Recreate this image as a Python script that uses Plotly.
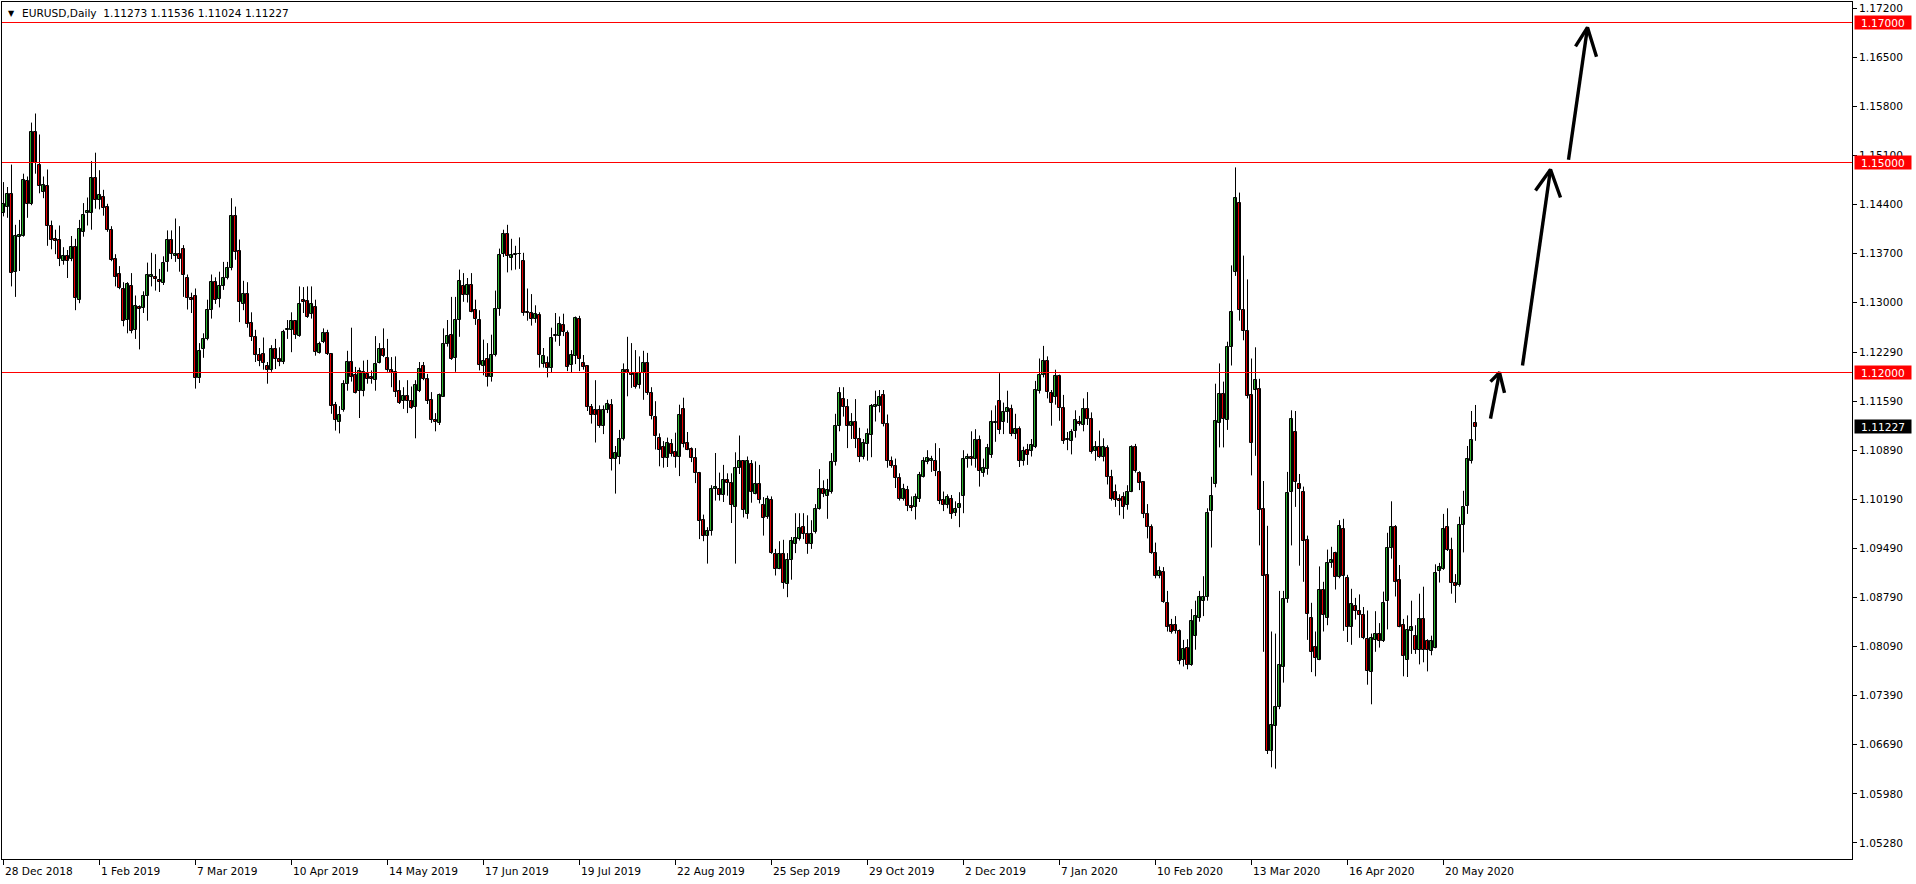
import pandas as pd
import plotly.graph_objects as go

# ---------------- data ----------------
symbol_title = "EURUSD,Daily"
header_values = ["1.11273", "1.11536", "1.11024", "1.11227"]
first_day, last_day = "2018-12-28", "2020-06-01"
holidays = ["2019-01-01", "2019-12-25", "2020-01-01"]

opens = [
    1.1428, 1.1436, 1.1455, 1.1344, 1.1393, 1.1395, 1.1474, 1.1441, 1.1544, 1.1497,
    1.1458, 1.1467, 1.1410, 1.1391, 1.1390, 1.1359, 1.1366, 1.1362, 1.1380, 1.1304,
    1.1401, 1.1428, 1.1428, 1.1478, 1.1447, 1.1451, 1.1437, 1.1403, 1.1362, 1.1341,
    1.1320, 1.1275, 1.1324, 1.1261, 1.1294, 1.1292, 1.1309, 1.1336, 1.1337, 1.1332,
    1.1328, 1.1358, 1.1389, 1.1366, 1.1370, 1.1376, 1.1335, 1.1307, 1.1309, 1.1192,
    1.1234, 1.1248, 1.1289, 1.1330, 1.1305, 1.1324, 1.1335, 1.1350, 1.1424, 1.1373,
    1.1298, 1.1312, 1.1271, 1.1251, 1.1225, 1.1227, 1.1209, 1.1203, 1.1234, 1.1220,
    1.1215, 1.1261, 1.1261, 1.1274, 1.1252, 1.1304, 1.1302, 1.1284, 1.1294, 1.1228,
    1.1244, 1.1256, 1.1226, 1.1153, 1.1129, 1.1146, 1.1184, 1.1215, 1.1196, 1.1174,
    1.1173, 1.1198, 1.1193, 1.1190, 1.1214, 1.1234, 1.1221, 1.1203, 1.1201, 1.1174,
    1.1160, 1.1166, 1.1159, 1.1151, 1.1174, 1.1210, 1.1191, 1.1161, 1.1132, 1.1128,
    1.1165, 1.1241, 1.1253, 1.1221, 1.1275, 1.1324, 1.1311, 1.1325, 1.1289, 1.1275,
    1.1210, 1.1219, 1.1193, 1.1225, 1.1291, 1.1370, 1.1398, 1.1363, 1.1368, 1.1369,
    1.1359, 1.1286, 1.1285, 1.1277, 1.1282, 1.1212, 1.1214, 1.1207, 1.1252, 1.1252,
    1.1268, 1.1257, 1.1211, 1.1223, 1.1277, 1.1214, 1.1210, 1.1151, 1.1146, 1.1146,
    1.1123, 1.1146, 1.1154, 1.1077, 1.1079, 1.1105, 1.1203, 1.1199, 1.1200, 1.1182,
    1.1200, 1.1214, 1.1171, 1.1136, 1.1107, 1.1094, 1.1078, 1.1098, 1.1086, 1.1079,
    1.1148, 1.1100, 1.1091, 1.1078, 1.1057, 1.0990, 1.0966, 1.0973, 1.1034, 1.1034,
    1.1025, 1.1047, 1.1042, 1.1008, 1.1064, 1.1073, 1.0998, 1.1070, 1.1027, 1.1041,
    1.1011, 1.0993, 1.1018, 1.0941, 1.0920, 1.0941, 1.0898, 1.0932, 1.0955, 1.0962,
    1.0980, 1.0969, 1.0955, 1.0972, 1.1005, 1.1033, 1.1024, 1.1029, 1.1072, 1.1124,
    1.1162, 1.1151, 1.1124, 1.1130, 1.1105, 1.1079, 1.1098, 1.1111, 1.1151, 1.1152,
    1.1168, 1.1126, 1.1074, 1.1066, 1.1050, 1.1020, 1.1032, 1.1009, 1.1008, 1.1020,
    1.1051, 1.1072, 1.1074, 1.1073, 1.1058, 1.1018, 1.1011, 1.1019, 1.0999, 1.1006,
    1.1023, 1.1076, 1.1080, 1.1077, 1.1103, 1.1057, 1.1062, 1.1082, 1.1128, 1.1160,
    1.1130, 1.1144, 1.1148, 1.1112, 1.1120, 1.1074, 1.1089, 1.1088, 1.1094, 1.1173,
    1.1197, 1.1217, 1.1171, 1.1165, 1.1195, 1.1149, 1.1105, 1.1102, 1.1117, 1.1130,
    1.1125, 1.1148, 1.1133, 1.1088, 1.1093, 1.1080, 1.1092, 1.1051, 1.1030, 1.1020,
    1.1022, 1.1011, 1.1030, 1.1093, 1.1056, 1.1043, 1.0998, 1.0980, 1.0942, 1.0909,
    1.0915, 1.0871, 1.0839, 1.0840, 1.0831, 1.0789, 1.0806, 1.0782, 1.0823, 1.0850,
    1.0874, 1.0880, 1.1002, 1.1041, 1.1128, 1.1169, 1.1132, 1.1236, 1.1343, 1.1442,
    1.1289, 1.1260, 1.1168, 1.1175, 1.1176, 1.1005, 1.0911, 1.0659, 1.0695, 1.0722,
    1.0780, 1.0876, 1.1030, 1.1115, 1.1041, 1.1030, 1.0961, 1.0850, 1.0808, 1.0790,
    1.0889, 1.0849, 1.0928, 1.0942, 1.0908, 1.0977, 1.0907, 1.0836, 1.0867, 1.0859,
    1.0853, 1.0819, 1.0772, 1.0818, 1.0827, 1.0817, 1.0874, 1.0950, 1.0979, 1.0903,
    1.0839, 1.0790, 1.0831, 1.0824, 1.0804, 1.0848, 1.0817, 1.0802, 1.0807, 1.0917,
    1.0919, 1.0979, 1.0947, 1.0899, 1.0896, 1.0982, 1.1010, 1.1073, 1.11273,
]

highs = [
    1.1472, 1.1465, 1.1497, 1.1411, 1.1418, 1.1484, 1.1480, 1.1557, 1.1570, 1.1540,
    1.1480, 1.1490, 1.1417, 1.1404, 1.1410, 1.1379, 1.1375, 1.1395, 1.1391, 1.1418,
    1.1442, 1.1450, 1.1502, 1.1514, 1.1489, 1.1461, 1.1441, 1.1409, 1.1369, 1.1352,
    1.1329, 1.1329, 1.1342, 1.1310, 1.1296, 1.1316, 1.1357, 1.1371, 1.1369, 1.1348,
    1.1366, 1.1403, 1.1403, 1.1420, 1.1409, 1.1382, 1.1340, 1.1314, 1.1320, 1.1242,
    1.1256, 1.1304, 1.1340, 1.1336, 1.1344, 1.1358, 1.1358, 1.1449, 1.1437, 1.1390,
    1.1331, 1.1329, 1.1286, 1.1261, 1.1235, 1.1250, 1.1215, 1.1239, 1.1248, 1.1236,
    1.1261, 1.1275, 1.1286, 1.1275, 1.1323, 1.1322, 1.1323, 1.1323, 1.1304, 1.1244,
    1.1263, 1.1261, 1.1227, 1.1158, 1.1152, 1.1189, 1.1231, 1.1264, 1.1208, 1.1207,
    1.1217, 1.1218, 1.1203, 1.1252, 1.1242, 1.1263, 1.1248, 1.1222, 1.1223, 1.1189,
    1.1179, 1.1189, 1.1180, 1.1189, 1.1215, 1.1215, 1.1198, 1.1172, 1.1142, 1.1170,
    1.1263, 1.1275, 1.1308, 1.1308, 1.1347, 1.1342, 1.1335, 1.1342, 1.1304, 1.1289,
    1.1247, 1.1242, 1.1254, 1.1317, 1.1377, 1.1404, 1.1411, 1.1391, 1.1381, 1.1393,
    1.1371, 1.1320, 1.1312, 1.1296, 1.1286, 1.1235, 1.1223, 1.1264, 1.1285, 1.1280,
    1.1284, 1.1260, 1.1232, 1.1280, 1.1281, 1.1225, 1.1210, 1.1155, 1.1189, 1.1153,
    1.1153, 1.1161, 1.1162, 1.1095, 1.1118, 1.1213, 1.1251, 1.1242, 1.1232, 1.1223,
    1.1231, 1.1228, 1.1179, 1.1159, 1.1113, 1.1102, 1.1107, 1.1105, 1.1114, 1.1154,
    1.1164, 1.1115, 1.1093, 1.1092, 1.1058, 1.0997, 1.0979, 1.1039, 1.1085, 1.1057,
    1.1068, 1.1056, 1.1056, 1.1086, 1.1110, 1.1075, 1.1080, 1.1075, 1.1073, 1.1068,
    1.1022, 1.1024, 1.1023, 1.0948, 1.0959, 1.0961, 1.0942, 1.0965, 1.0999, 1.0999,
    1.0999, 1.0996, 1.0989, 1.1012, 1.1062, 1.1046, 1.1048, 1.1085, 1.1141, 1.1179,
    1.1179, 1.1162, 1.1142, 1.1162, 1.1121, 1.1105, 1.1120, 1.1155, 1.1174, 1.1175,
    1.1175, 1.1140, 1.1080, 1.1077, 1.1056, 1.1041, 1.1038, 1.1023, 1.1027, 1.1058,
    1.1079, 1.1089, 1.1081, 1.1099, 1.1092, 1.1030, 1.1026, 1.1025, 1.1016, 1.1029,
    1.1089, 1.1084, 1.1116, 1.1119, 1.1110, 1.1077, 1.1098, 1.1146, 1.1153, 1.1199,
    1.1157, 1.1174, 1.1154, 1.1141, 1.1123, 1.1094, 1.1098, 1.1105, 1.1188, 1.1220,
    1.1238, 1.1223, 1.1175, 1.1204, 1.1197, 1.1168, 1.1115, 1.1119, 1.1146, 1.1138,
    1.1163, 1.1172, 1.1143, 1.1102, 1.1117, 1.1106, 1.1096, 1.1061, 1.1040, 1.1026,
    1.1029, 1.1039, 1.1096, 1.1098, 1.1059, 1.1045, 1.1012, 1.0983, 1.0957, 1.0923,
    1.0922, 1.0888, 1.0848, 1.0852, 1.0833, 1.0818, 1.0819, 1.0862, 1.0874, 1.0888,
    1.0909, 1.1006, 1.1051, 1.1184, 1.1213, 1.1187, 1.1244, 1.1353, 1.1493, 1.1457,
    1.1367, 1.1333, 1.1220, 1.1236, 1.1191, 1.1045, 1.0981, 1.0830, 1.0827, 1.0888,
    1.0888, 1.1058, 1.1146, 1.1145, 1.1055, 1.1037, 1.0967, 1.0871, 1.0830, 1.0923,
    1.0901, 1.0947, 1.0951, 1.0944, 1.0989, 1.0991, 1.0911, 1.0891, 1.0878, 1.0883,
    1.0865, 1.0860, 1.0827, 1.0859, 1.0842, 1.0887, 1.0971, 1.1016, 1.0982, 1.0925,
    1.0848, 1.0853, 1.0874, 1.0839, 1.0884, 1.0894, 1.0819, 1.0824, 1.0926, 1.0928,
    1.0998, 1.1006, 1.0964, 1.0912, 1.0994, 1.1031, 1.1095, 1.1145, 1.11536,
]

lows = [
    1.1423, 1.1421, 1.1323, 1.1308, 1.1345, 1.1394, 1.1421, 1.1439, 1.1484, 1.1456,
    1.1449, 1.1381, 1.1376, 1.1369, 1.1352, 1.1354, 1.1335, 1.1359, 1.1289, 1.1299,
    1.1394, 1.1410, 1.1404, 1.1434, 1.1433, 1.1424, 1.1401, 1.1359, 1.1323, 1.1319,
    1.1266, 1.1256, 1.1256, 1.1248, 1.1233, 1.1285, 1.1274, 1.1323, 1.1317, 1.1315,
    1.1325, 1.1344, 1.1362, 1.1358, 1.1344, 1.1308, 1.1290, 1.1285, 1.1177, 1.1185,
    1.1221, 1.1246, 1.1277, 1.1298, 1.1293, 1.1318, 1.1333, 1.1346, 1.1361, 1.1272,
    1.1289, 1.1264, 1.1245, 1.1215, 1.1209, 1.1204, 1.1184, 1.1201, 1.1205, 1.1209,
    1.1212, 1.1248, 1.1229, 1.1248, 1.1251, 1.1285, 1.1278, 1.1277, 1.1224, 1.1227,
    1.1242, 1.1225, 1.1141, 1.1117, 1.1113, 1.1144, 1.1174, 1.1187, 1.1170, 1.1135,
    1.1166, 1.1184, 1.1184, 1.1174, 1.1213, 1.1222, 1.1201, 1.1179, 1.1165, 1.1155,
    1.1148, 1.1142, 1.1148, 1.1106, 1.1172, 1.1189, 1.1155, 1.1128, 1.1116, 1.1125,
    1.1165, 1.1237, 1.1218, 1.1201, 1.1251, 1.1301, 1.1300, 1.1286, 1.1268, 1.1203,
    1.1196, 1.1180, 1.1187, 1.1223, 1.1281, 1.1365, 1.1343, 1.1346, 1.1347, 1.1348,
    1.1281, 1.1274, 1.1267, 1.1271, 1.1207, 1.1207, 1.1193, 1.1200, 1.1244, 1.1238,
    1.1252, 1.1202, 1.1200, 1.1212, 1.1202, 1.1204, 1.1145, 1.1127, 1.1100, 1.1121,
    1.1112, 1.1142, 1.1060, 1.1027, 1.1069, 1.1103, 1.1166, 1.1178, 1.1177, 1.1177,
    1.1161, 1.1168, 1.1133, 1.1090, 1.1066, 1.1064, 1.1065, 1.1080, 1.1064, 1.1052,
    1.1093, 1.1089, 1.1072, 1.1042, 1.0962, 1.0959, 1.0927, 1.0967, 1.1017, 1.1017,
    1.1015, 1.1024, 1.0985, 1.0927, 1.1055, 1.0993, 1.0991, 1.1014, 1.1026, 1.1013,
    1.0967, 1.0991, 1.0941, 1.0910, 1.0919, 1.0891, 1.0879, 1.0904, 1.0942, 1.0960,
    1.0962, 1.0941, 1.0948, 1.0970, 1.1004, 1.1022, 1.0991, 1.1027, 1.1067, 1.1116,
    1.1137, 1.1092, 1.1105, 1.1092, 1.1072, 1.1076, 1.1074, 1.1079, 1.1130, 1.1143,
    1.1123, 1.1064, 1.1064, 1.1035, 1.1017, 1.1017, 1.1002, 1.1002, 1.0990, 1.1015,
    1.1050, 1.1069, 1.1058, 1.1052, 1.1012, 1.1002, 1.1006, 1.0991, 1.0995, 1.0979,
    1.0999, 1.1064, 1.1067, 1.1064, 1.1037, 1.1051, 1.1054, 1.1078, 1.1101, 1.1112,
    1.1112, 1.1128, 1.1109, 1.1105, 1.1065, 1.1067, 1.1068, 1.1080, 1.1092, 1.1170,
    1.1193, 1.1163, 1.1124, 1.1154, 1.1131, 1.1098, 1.1089, 1.1083, 1.1107, 1.1124,
    1.1116, 1.1125, 1.1084, 1.1074, 1.1078, 1.1073, 1.1040, 1.1017, 1.1008, 1.0996,
    1.0991, 1.1004, 1.1029, 1.1057, 1.1032, 1.0992, 1.0963, 1.0941, 1.0906, 1.0906,
    1.0871, 1.0830, 1.0827, 1.0827, 1.0783, 1.0780, 1.0776, 1.0781, 1.0804, 1.0844,
    1.0852, 1.0874, 1.0950, 1.1036, 1.1093, 1.1093, 1.1118, 1.1210, 1.1338, 1.1274,
    1.1246, 1.1163, 1.1053, 1.1081, 1.0953, 1.0801, 1.0655, 1.0636, 1.0634, 1.0719,
    1.0757, 1.0871, 1.0953, 1.1008, 1.0924, 1.0901, 1.0818, 1.0772, 1.0766, 1.0789,
    1.0830, 1.0839, 1.0921, 1.0890, 1.0906, 1.0831, 1.0815, 1.0811, 1.0847, 1.0821,
    1.0819, 1.0754, 1.0726, 1.0801, 1.0807, 1.0815, 1.0833, 1.0934, 1.0880, 1.0836,
    1.0766, 1.0765, 1.0798, 1.0798, 1.0783, 1.0786, 1.0773, 1.0796, 1.0806, 1.0900,
    1.0918, 1.0945, 1.0884, 1.0871, 1.0894, 1.0943, 1.0998, 1.1070, 1.11024,
]

closes = [
    1.1441, 1.1455, 1.1342, 1.1395, 1.1396, 1.1475, 1.1441, 1.1543, 1.1500, 1.1466,
    1.1468, 1.1410, 1.1390, 1.1388, 1.1362, 1.1366, 1.1359, 1.1380, 1.1306, 1.1405,
    1.1425, 1.1431, 1.1478, 1.1447, 1.1454, 1.1435, 1.1403, 1.1361, 1.1336, 1.1321,
    1.1274, 1.1327, 1.1260, 1.1295, 1.1291, 1.1309, 1.1340, 1.1340, 1.1333, 1.1330,
    1.1357, 1.1389, 1.1370, 1.1370, 1.1362, 1.1340, 1.1307, 1.1304, 1.1192, 1.1231,
    1.1248, 1.1289, 1.1330, 1.1304, 1.1324, 1.1335, 1.1350, 1.1424, 1.1372, 1.1301,
    1.1312, 1.1270, 1.1251, 1.1225, 1.1217, 1.1213, 1.1204, 1.1233, 1.1220, 1.1215,
    1.1258, 1.1262, 1.1274, 1.1253, 1.1298, 1.1301, 1.1279, 1.1298, 1.1229, 1.1241,
    1.1256, 1.1226, 1.1152, 1.1132, 1.1140, 1.1184, 1.1215, 1.1193, 1.1171, 1.1202,
    1.1201, 1.1191, 1.1191, 1.1212, 1.1233, 1.1223, 1.1203, 1.1200, 1.1172, 1.1156,
    1.1166, 1.1160, 1.1150, 1.1182, 1.1205, 1.1191, 1.1160, 1.1132, 1.1129, 1.1168,
    1.1241, 1.1252, 1.1220, 1.1275, 1.1331, 1.1311, 1.1325, 1.1287, 1.1277, 1.1211,
    1.1217, 1.1193, 1.1225, 1.1291, 1.1368, 1.1398, 1.1366, 1.1368, 1.1369, 1.1370,
    1.1285, 1.1285, 1.1277, 1.1284, 1.1225, 1.1224, 1.1207, 1.1250, 1.1254, 1.1270,
    1.1258, 1.1208, 1.1225, 1.1278, 1.1220, 1.1208, 1.1151, 1.1140, 1.1140, 1.1123,
    1.1146, 1.1155, 1.1077, 1.1085, 1.1105, 1.1203, 1.1200, 1.1197, 1.1179, 1.1200,
    1.1214, 1.1171, 1.1138, 1.1109, 1.1090, 1.1078, 1.1100, 1.1083, 1.1079, 1.1139,
    1.1098, 1.1090, 1.1078, 1.1057, 1.0988, 1.0966, 1.0973, 1.1034, 1.1036, 1.1025,
    1.1047, 1.1042, 1.1011, 1.1064, 1.1073, 1.1004, 1.1073, 1.1029, 1.1041, 1.1018,
    1.0992, 1.1019, 1.0942, 1.0920, 1.0941, 1.0899, 1.0932, 1.0960, 1.0964, 1.0978,
    1.0970, 1.0955, 1.0970, 1.1005, 1.1034, 1.1026, 1.1032, 1.1072, 1.1124, 1.1171,
    1.1151, 1.1124, 1.1130, 1.1105, 1.1079, 1.1099, 1.1112, 1.1152, 1.1153, 1.1165,
    1.1127, 1.1074, 1.1066, 1.1050, 1.1020, 1.1034, 1.1010, 1.1007, 1.1022, 1.1053,
    1.1073, 1.1078, 1.1076, 1.1059, 1.1017, 1.1011, 1.1022, 1.0998, 1.1005, 1.1012,
    1.1077, 1.1080, 1.1077, 1.1103, 1.1060, 1.1064, 1.1092, 1.1129, 1.1130, 1.1118,
    1.1144, 1.1150, 1.1112, 1.1119, 1.1074, 1.1088, 1.1082, 1.1096, 1.1175, 1.1197,
    1.1216, 1.1172, 1.1156, 1.1195, 1.1150, 1.1102, 1.1104, 1.1115, 1.1132, 1.1126,
    1.1148, 1.1134, 1.1087, 1.1093, 1.1080, 1.1093, 1.1051, 1.1019, 1.1018, 1.1017,
    1.1008, 1.1030, 1.1094, 1.1059, 1.1042, 1.0998, 1.0979, 1.0942, 1.0909, 1.0916,
    1.0872, 1.0837, 1.0830, 1.0831, 1.0788, 1.0805, 1.0782, 1.0845, 1.0852, 1.0880,
    1.0880, 1.0999, 1.1024, 1.1131, 1.1169, 1.1134, 1.1236, 1.1286, 1.1450, 1.1289,
    1.1260, 1.1166, 1.1099, 1.1189, 1.1004, 1.0909, 1.0660, 1.0697, 1.0722, 1.0782,
    1.0877, 1.1028, 1.1134, 1.1043, 1.1033, 1.0960, 1.0855, 1.0801, 1.0792, 1.0890,
    1.0853, 1.0928, 1.0932, 1.0908, 1.0981, 1.0909, 1.0837, 1.0869, 1.0860, 1.0853,
    1.0821, 1.0773, 1.0821, 1.0827, 1.0817, 1.0871, 1.0950, 1.0979, 1.0901, 1.0837,
    1.0795, 1.0832, 1.0836, 1.0804, 1.0848, 1.0804, 1.0804, 1.0817, 1.0913, 1.0922,
    1.0976, 1.0947, 1.0899, 1.0895, 1.0982, 1.1008, 1.1077, 1.1104, 1.11227,
]

level_lines = [1.17000, 1.15000, 1.12000]
y_ticks = [1.17200, 1.16500, 1.15800, 1.15100, 1.14400, 1.13700, 1.13000, 1.12290,
           1.11590, 1.10890, 1.10190, 1.09490, 1.08790, 1.08090, 1.07390, 1.06690,
           1.05980, 1.05280]
y_range = [1.050500, 1.172929]
current_price = 1.11227
label_step = 24

# hand-drawn arrows: (bar position, price) for tail, tip, left barb, right barb
arrows = [
    [(371.75, 1.1134), (374.0, 1.1200), (371.75, 1.1187), (375.25, 1.1171)],
    [(379.75, 1.1210), (386.75, 1.1490), (383.0, 1.1460), (389.25, 1.1450)],
    [(391.25, 1.1504), (396.0, 1.1693), (393.0, 1.1666), (398.25, 1.1651)],
]

# ---------------- build ----------------
n = len(opens)
assert len(highs) == n and len(lows) == n and len(closes) == n, (len(opens), len(highs), len(lows), len(closes))
dates = [d for d in pd.bdate_range(first_day, last_day) if d.strftime("%Y-%m-%d") not in holidays]
assert len(dates) == n, (len(dates), n)
xs = list(range(n))

BULL = "#2fb52f"
BEAR = "#e80000"
FONT = "DejaVu Sans"
FS = 10.6

fig = go.Figure()

# wicks
wx, wy = [], []
for i in xs:
    wx += [i, i, None]
    wy += [lows[i], highs[i], None]
fig.add_trace(go.Scatter(x=wx, y=wy, mode="lines", line=dict(color="black", width=1),
                         hoverinfo="skip", showlegend=False))

# bodies
EPS = 0.00003
for is_bull, color in [(True, BULL), (False, BEAR)]:
    idx = [i for i in xs if (closes[i] >= opens[i]) == is_bull]
    fig.add_trace(go.Bar(
        x=idx,
        base=[min(opens[i], closes[i]) for i in idx],
        y=[max(abs(closes[i] - opens[i]), EPS) for i in idx],
        width=0.9,
        marker=dict(color=color, line=dict(color="black", width=1)),
        hoverinfo="skip", showlegend=False,
    ))

# arrows
for tail, tip, bl, br in arrows:
    fig.add_trace(go.Scatter(
        x=[tail[0], tip[0], None, bl[0], tip[0], br[0]],
        y=[tail[1], tip[1], None, bl[1], tip[1], br[1]],
        mode="lines", line=dict(color="black", width=3.4),
        hoverinfo="skip", showlegend=False,
    ))

shapes = [dict(type="line", xref="paper", x0=0, x1=1, yref="y", y0=v, y1=v,
               line=dict(color="#ff0000", width=1), layer="above") for v in level_lines]

annotations = []
tick_idx = list(range(0, n, label_step))
for i in tick_idx:
    d = dates[i]
    annotations.append(dict(
        x=i, xref="x", y=0, yref="paper", xanchor="left", yanchor="top",
        yshift=-4, xshift=-1, showarrow=False,
        text=f"{d.day} {d.strftime('%b %Y')}",
        font=dict(family=FONT, size=FS, color="black")))

for v in level_lines:
    annotations.append(dict(
        x=1, xref="paper", y=v, yref="y", xanchor="left", yanchor="middle", xshift=2,
        showarrow=False, text=f"{v:.5f}", bgcolor="#ff0000", width=56, height=13,
        borderpad=0, align="center", font=dict(family=FONT, size=FS, color="white")))
annotations.append(dict(
    x=1, xref="paper", y=current_price, yref="y", xanchor="left", yanchor="middle", xshift=2,
    showarrow=False, text=f"{current_price:.5f}", bgcolor="black", width=56, height=13,
    borderpad=0, align="center", font=dict(family=FONT, size=FS, color="white")))

annotations.append(dict(
    x=0, xref="paper", y=1, yref="paper", xanchor="left", yanchor="top", xshift=4, yshift=-5,
    showarrow=False, text="\u25bc", font=dict(family=FONT, size=8, color="black")))
annotations.append(dict(
    x=0, xref="paper", y=1, yref="paper", xanchor="left", yanchor="top", xshift=18, yshift=-3,
    showarrow=False,
    text=symbol_title + "\u00a0\u00a0" + " ".join(header_values),
    font=dict(family=FONT, size=FS, color="black")))

fig.update_layout(
    width=1916, height=884,
    margin=dict(l=2, r=64, t=2, b=25, pad=0),
    paper_bgcolor="white", plot_bgcolor="white",
    showlegend=False, barmode="overlay", bargap=0,
    font=dict(family=FONT, size=FS, color="black"),
    xaxis=dict(range=[-0.375, 462.125], showgrid=False, zeroline=False, showline=True,
               mirror=True, linecolor="black", linewidth=1, ticks="outside", ticklen=5,
               tickcolor="black", tickvals=tick_idx, showticklabels=False,
               automargin=False, fixedrange=True),
    yaxis=dict(side="right", range=y_range, showgrid=False, zeroline=False,
               showline=True, mirror=True, linecolor="black", linewidth=1,
               ticks="outside", ticklen=4, tickcolor="black",
               tickvals=y_ticks, ticktext=[f"{v:.5f}" for v in y_ticks],
               tickfont=dict(family=FONT, size=FS, color="black"),
               automargin=False, fixedrange=True),
    shapes=shapes, annotations=annotations,
)

fig.write_html("out.html", config={"displayModeBar": False},
               post_script="document.body.style.margin='0';document.body.style.overflow='hidden';")
